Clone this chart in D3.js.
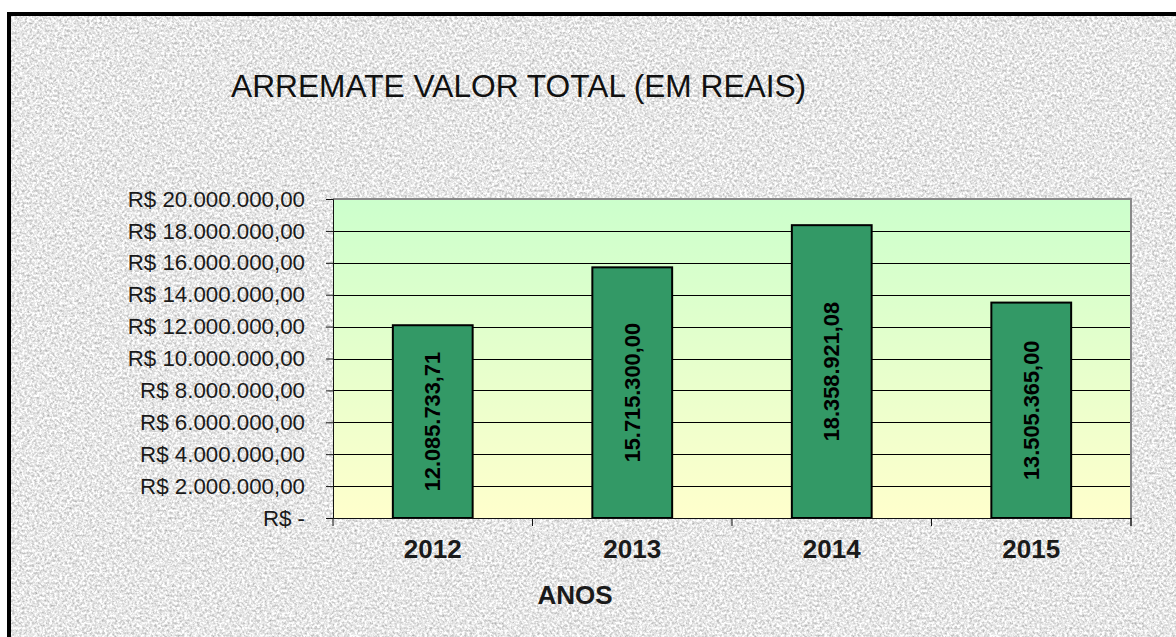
<!DOCTYPE html>
<html>
<head>
<meta charset="utf-8">
<script src="https://cdn.jsdelivr.net/npm/d3@7"></script>
<style>
  body { margin: 0; background: #fff; }
  text { font-family: "Liberation Sans", Arial, sans-serif; }
</style>
</head>
<body>
<div id="GraphHolder"></div>
<script>
// chart data
var years = ["2012", "2013", "2014", "2015"];
var values = [12085733.71, 15715300.00, 18358921.08, 13505365.00];
var valueLabels = ["12.085.733,71", "15.715.300,00", "18.358.921,08", "13.505.365,00"];
var yTicks = [0, 2000000, 4000000, 6000000, 8000000, 10000000, 12000000, 14000000, 16000000, 18000000, 20000000];
var yTickLabels = ["R$ -", "R$ 2.000.000,00", "R$ 4.000.000,00", "R$ 6.000.000,00", "R$ 8.000.000,00",
    "R$ 10.000.000,00", "R$ 12.000.000,00", "R$ 14.000.000,00", "R$ 16.000.000,00",
    "R$ 18.000.000,00", "R$ 20.000.000,00"];

var W = 1176, H = 637;
var plot = {left: 333, right: 1131, top: 199, bottom: 518};

var svg = d3.select("#GraphHolder").append("svg")
    .attr("width", W)
    .attr("height", H);

var defs = svg.append("defs");

// granite-like background texture
var filt = defs.append("filter").attr("id", "granite")
    .attr("x", 0).attr("y", 0).attr("width", "100%").attr("height", "100%")
    .attr("color-interpolation-filters", "sRGB");
filt.append("feTurbulence")
    .attr("type", "fractalNoise")
    .attr("baseFrequency", 0.4)
    .attr("numOctaves", 4)
    .attr("seed", 7);
filt.append("feColorMatrix")
    .attr("type", "matrix")
    .attr("values", "0.55 0 0 0 0.63  0.55 0 0 0 0.63  0.55 0 0 0 0.63  0 0 0 0 1");

// plot area gradient
var grad = defs.append("linearGradient").attr("id", "plotGrad")
    .attr("x1", 0).attr("y1", 0).attr("x2", 0).attr("y2", 1);
grad.append("stop").attr("offset", "0%").attr("stop-color", "#ccffcc");
grad.append("stop").attr("offset", "100%").attr("stop-color", "#ffffcc");

// chart area with outer border (runs off the right / bottom edge)
svg.append("rect")
    .attr("x", 9).attr("y", 14)
    .attr("width", W + 20).attr("height", H + 20)
    .attr("fill", "#ddd")
    .attr("filter", "url(#granite)");
svg.append("rect")
    .attr("x", 9).attr("y", 14)
    .attr("width", W + 20).attr("height", H + 20)
    .attr("fill", "none")
    .attr("stroke", "#000")
    .attr("stroke-width", 4);

// title
svg.append("text")
    .attr("x", 231).attr("y", 97)
    .attr("font-size", 31.7)
    .attr("fill", "#111")
    .text("ARREMATE VALOR TOTAL (EM REAIS)");

// scales
var x = d3.scaleBand()
    .domain(years)
    .range([plot.left, plot.right])
    .padding(0);
var y = d3.scaleLinear()
    .domain([0, 20000000])
    .range([plot.bottom, plot.top]);

// plot background
svg.append("rect")
    .attr("x", plot.left).attr("y", plot.top)
    .attr("width", plot.right - plot.left)
    .attr("height", plot.bottom - plot.top)
    .attr("fill", "url(#plotGrad)");

// gridlines
svg.selectAll(".grid")
    .data(yTicks.slice(1, -1))
    .enter().append("line")
    .attr("class", "grid")
    .attr("x1", plot.left).attr("x2", plot.right)
    .attr("y1", function(d) { return Math.round(y(d)) + 0.5; })
    .attr("y2", function(d) { return Math.round(y(d)) + 0.5; })
    .attr("stroke", "#000")
    .attr("stroke-width", 1);

// top / right border of the plot
svg.append("path")
    .attr("d", "M" + plot.left + "," + plot.top + "H" + plot.right + "V" + (plot.bottom + 8))
    .attr("fill", "none")
    .attr("stroke", "#888")
    .attr("stroke-width", 2);

// bars
var barW = x.bandwidth() * 0.4;
svg.selectAll(".bar")
    .data(values)
    .enter().append("rect")
    .attr("class", "bar")
    .attr("x", function(d, i) { return x(years[i]) + (x.bandwidth() - barW) / 2; })
    .attr("y", function(d) { return y(d); })
    .attr("width", barW)
    .attr("height", function(d) { return plot.bottom - y(d); })
    .attr("fill", "#339966")
    .attr("stroke", "#000")
    .attr("stroke-width", 2);

// bar value labels
svg.selectAll(".barlabel")
    .data(values)
    .enter().append("text")
    .attr("class", "barlabel")
    .attr("transform", function(d, i) {
        var cx = x(years[i]) + x.bandwidth() / 2;
        var cy = (y(d) + plot.bottom) / 2;
        return "translate(" + cx + "," + cy + ") rotate(-90)";
    })
    .attr("text-anchor", "middle")
    .attr("dominant-baseline", "central")
    .attr("font-size", 21.8)
    .attr("font-weight", "bold")
    .attr("fill", "#000")
    .text(function(d, i) { return valueLabels[i]; });

// y axis
var yAxis = d3.axisLeft(y)
    .tickValues(yTicks)
    .tickFormat(function(d, i) { return yTickLabels[i]; })
    .tickSize(7)
    .tickPadding(21);
var gy = svg.append("g")
    .attr("class", "yaxis")
    .attr("transform", "translate(" + plot.left + ",0)")
    .call(yAxis);
gy.select(".domain").attr("stroke", "#111");
gy.selectAll(".tick line").attr("stroke", "#111");
gy.selectAll("text")
    .attr("font-size", 22.3)
    .attr("fill", "#1a1a1a")
    .style("font-family", "'Liberation Sans', Arial, sans-serif");

// x axis: labels centered, ticks at band edges
var xAxis = d3.axisBottom(x).tickSize(0).tickPadding(22);
var gx = svg.append("g")
    .attr("class", "xaxis")
    .attr("transform", "translate(0," + plot.bottom + ")")
    .call(xAxis);
gx.select(".domain").attr("stroke", "#111");
gx.selectAll("text")
    .attr("font-size", 26)
    .attr("font-weight", "bold")
    .attr("fill", "#1a1a1a")
    .style("font-family", "'Liberation Sans', Arial, sans-serif");
gx.selectAll(".edge")
    .data(years.map(function(d) { return x(d); }).concat([plot.right]))
    .enter().append("line")
    .attr("class", "edge")
    .attr("x1", function(d) { return d; }).attr("x2", function(d) { return d; })
    .attr("y1", 0).attr("y2", 8)
    .attr("stroke", "#111");

// x axis title
svg.append("text")
    .attr("x", 575).attr("y", 604)
    .attr("text-anchor", "middle")
    .attr("font-size", 26)
    .attr("font-weight", "bold")
    .attr("fill", "#1a1a1a")
    .text("ANOS");
</script>
</body>
</html>
